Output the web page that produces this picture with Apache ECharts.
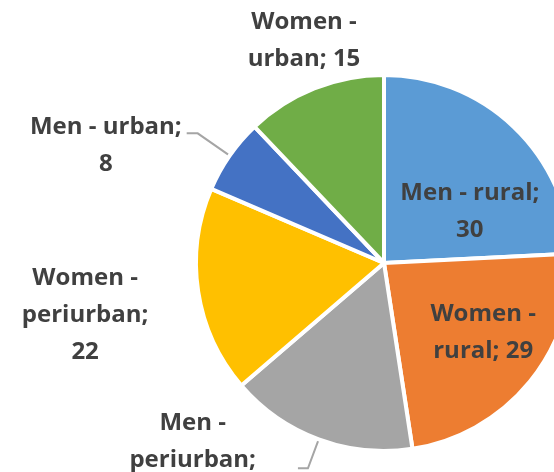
<!DOCTYPE html>
<html>
<head>
<meta charset="utf-8">
<script src="https://cdn.jsdelivr.net/npm/echarts@6/dist/echarts.min.js"></script>
<style>
html,body{margin:0;padding:0;background:#fff;}
#chart{width:554px;height:472px;}
</style>
</head>
<body>
<div id="chart"></div>
<script>
const categories = ['Men - rural', 'Women - rural', 'Men - periurban', 'Women - periurban', 'Men - urban', 'Women - urban'];
const values = [30, 29, 20, 22, 8, 15];
const colors = ['#5B9BD5', '#ED7D31', '#A5A5A5', '#FFC000', '#4472C4', '#70AD47'];
// label line breaks (text), {v} replaced by value
const labelFormats = ['Men - rural;\n{v}', 'Women -\nrural; {v}', 'Men -\nperiurban;\n{v}', 'Women -\nperiurban;\n{v}', 'Men - urban;\n{v}', 'Women -\nurban; {v}'];

// styling per slice label
const labelStyle = [
  {position: 'inside', dx: 19, dy: 19, line: false},
  {position: 'inside', dx: 24, dy: 8, line: false},
  {position: 'outside', dx: -37, dy: -8, line: true, length: 31, length2: 10},
  {position: 'inside', dx: -203, dy: 37, line: false},
  {position: 'outside', dx: 0, dy: 12, line: true, length: 39, length2: 11},
  {position: 'inside', dx: -44, dy: -132, line: false}
];

const FONT = {color: '#404040', fontFamily: 'Open Sans', fontWeight: 'bold', fontSize: 24, lineHeight: 37};

const chart = echarts.init(document.getElementById('chart'), null, {renderer: 'canvas'});
const data = categories.map((name, i) => ({
  name: name,
  value: values[i],
  itemStyle: {color: colors[i]},
  label: {
    position: labelStyle[i].position,
    formatter: () => '{c|' + labelFormats[i].replace('{v}', values[i]).split('\n').join('}\n{c|') + '}'
  },
  labelLine: labelStyle[i].line ? {show: true, length: labelStyle[i].length, length2: labelStyle[i].length2} : {show: false}
}));

chart.setOption({
  animation: false,
  series: [{
    type: 'pie',
    center: [384, 263],
    radius: 188,
    startAngle: 90,
    clockwise: true,
    avoidLabelOverlap: false,
    itemStyle: {borderColor: '#ffffff', borderWidth: 4},
    label: Object.assign({show: true, rich: {c: Object.assign({align: 'center'}, FONT)}}, FONT),
    labelLine: {
      lineStyle: {color: '#A5A5A5', width: 2},
      smooth: false
    },
    labelLayout: function (p) {
      const s = labelStyle[p.dataIndex];
      return {dx: s.dx, dy: s.dy};
    },
    data: data
  }]
});
</script>
</body>
</html>
